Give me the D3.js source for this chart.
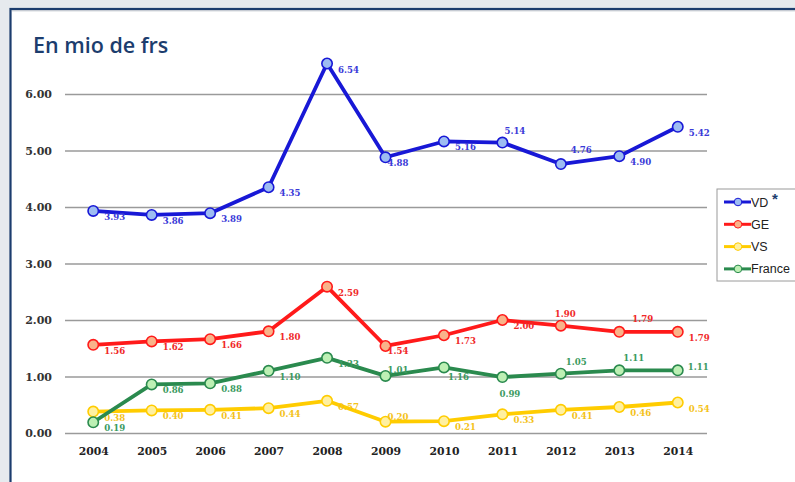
<!DOCTYPE html>
<html>
<head>
<meta charset="utf-8">
<script src="https://cdnjs.cloudflare.com/ajax/libs/d3/7.8.5/d3.min.js"></script>
<style>
  body { margin: 0; background: #e6eaee; }
  svg { display: block; }
</style>
</head>
<body>
<svg id="chart" width="795" height="482"></svg>
<script>
// values
const years = [2004, 2005, 2006, 2007, 2008, 2009, 2010, 2011, 2012, 2013, 2014];
const vd     = [3.93, 3.86, 3.89, 4.35, 6.54, 4.88, 5.16, 5.14, 4.76, 4.90, 5.42];
const ge     = [1.56, 1.62, 1.66, 1.80, 2.59, 1.54, 1.73, 2.00, 1.90, 1.79, 1.79];
const vs     = [0.38, 0.40, 0.41, 0.44, 0.57, 0.20, 0.21, 0.33, 0.41, 0.46, 0.54];
const france = [0.19, 0.86, 0.88, 1.10, 1.33, 1.01, 1.16, 0.99, 1.05, 1.11, 1.11];
const yTicks = [0, 1, 2, 3, 4, 5, 6];

const series = [
    { name: 'VD',     values: vd,     line: '#1818d6', fill: '#9dbcf2', text: '#3a3ad8' },
    { name: 'GE',     values: ge,     line: '#ff1a1a', fill: '#f9b38a', text: '#f02828' },
    { name: 'VS',     values: vs,     line: '#ffcc00', fill: '#fff0a0', text: '#f4c21a' },
    { name: 'France', values: france, line: '#2a8a4e', fill: '#bdf0b4', text: '#3a9a60' }
];

// label nudges where the default (right, below) spot is not used
const labelShift = {
    'VD-2011': [2, -12], 'VD-2012': [10, -14], 'VD-2009': [2, 6],
    'GE-2012': [-6, -12], 'GE-2013': [13, -13], 'GE-2009': [2, 5],
    'France-2009': [2, -6], 'France-2010': [4, 10], 'France-2011': [-3, 17],
    'France-2012': [5, -12], 'France-2013': [4, -12], 'France-2014': [10, -3],
    'VS-2009': [2, -5]
};

const svg = d3.select('#chart');

// white panel with navy frame
svg.append('rect').attr('x', 10.5).attr('y', 9).attr('width', 800).attr('height', 490)
    .attr('fill', '#ffffff').attr('stroke', '#1c3d6e').attr('stroke-width', 2.2);
svg.append('line').attr('x1', 12).attr('x2', 795).attr('y1', 10.8).attr('y2', 10.8)
    .attr('stroke', '#b8bec6').attr('stroke-width', 1);

svg.append('text').attr('x', 33).attr('y', 53)
    .style('font-family', '"Open Sans", sans-serif').style('font-weight', 600)
    .style('font-size', '21.5px').style('fill', '#1c3d6e')
    .text('En mio de frs');

const x = d3.scalePoint().domain(years).range([64, 707]).padding(0.5);
const y = d3.scaleLinear().domain([0, 6]).range([433, 94]);

// grid lines and y labels
const yAxis = d3.axisLeft(y).tickValues(yTicks).tickSize(-(707 - 65)).tickFormat(d3.format('.2f'));
const gy = svg.append('g').attr('transform', 'translate(65,0)').call(yAxis);
gy.select('.domain').remove();
gy.selectAll('.tick line').attr('stroke', '#9a9a9a').attr('stroke-width', 1.6);
gy.selectAll('.tick text').attr('x', -13).attr('dy', '0.35em')
    .style('font-family', '"DejaVu Serif", serif').style('font-weight', 'bold')
    .style('font-size', '11px').style('fill', '#333');

const xAxis = d3.axisBottom(x).tickSize(0);
const gx = svg.append('g').attr('transform', 'translate(0,433)').call(xAxis);
gx.select('.domain').remove();
gx.selectAll('.tick text').attr('y', 18).attr('dy', '0.35em')
    .style('font-family', '"DejaVu Serif", serif').style('font-weight', 'bold')
    .style('font-size', '10.8px').style('fill', '#222');

const line = d3.line().x((d, i) => x(years[i])).y(d => y(d));

// draw in back-to-front order like the picture (VD on top)
[series[2], series[3], series[1], series[0]].forEach(s => {
    const g = svg.append('g');
    g.append('path').datum(s.values).attr('d', line)
        .attr('fill', 'none').attr('stroke', s.line).attr('stroke-width', 3.8)
        .attr('stroke-linejoin', 'round');
    g.selectAll('circle').data(s.values).join('circle')
        .attr('cx', (d, i) => x(years[i])).attr('cy', d => y(d)).attr('r', 5.2)
        .attr('fill', s.fill).attr('stroke', s.line).attr('stroke-width', 1.6);
    g.selectAll('text').data(s.values).join('text')
        .attr('x', (d, i) => {
            const sh = labelShift[s.name + '-' + years[i]];
            return x(years[i]) + (sh ? sh[0] : 11);
        })
        .attr('y', (d, i) => {
            const sh = labelShift[s.name + '-' + years[i]];
            return y(d) + (sh ? sh[1] : 6);
        })
        .attr('dy', '0.35em')
        .style('font-family', '"DejaVu Serif", serif').style('font-weight', 'bold')
        .style('font-size', '8.6px').style('fill', s.text)
        .text(d => d.toFixed(2));
});

// legend
const lg = svg.append('g').attr('transform', 'translate(717,189)');
lg.append('rect').attr('width', 80).attr('height', 92)
    .attr('fill', '#fff').attr('stroke', '#9a9a9a').attr('stroke-width', 1);
series.forEach((s, i) => {
    const row = lg.append('g').attr('transform', `translate(0,${13 + i * 22.3})`);
    row.append('line').attr('x1', 7).attr('x2', 34).attr('stroke', s.line).attr('stroke-width', 3);
    row.append('circle').attr('cx', 21).attr('r', 3.8)
        .attr('fill', s.fill).attr('stroke', s.line).attr('stroke-width', 1);
    row.append('text').attr('x', 34).attr('dy', '0.36em')
        .style('font-family', '"Liberation Sans", Arial, sans-serif')
        .style('font-size', '12.5px').style('fill', '#222').text(s.name);
});
lg.append('text').attr('x', 55).attr('y', 15)
    .style('font-family', '"Liberation Sans", Arial, sans-serif').style('font-weight', 'bold')
    .style('font-size', '15px').style('fill', '#1c3d6e').text('*');
</script>
</body>
</html>
